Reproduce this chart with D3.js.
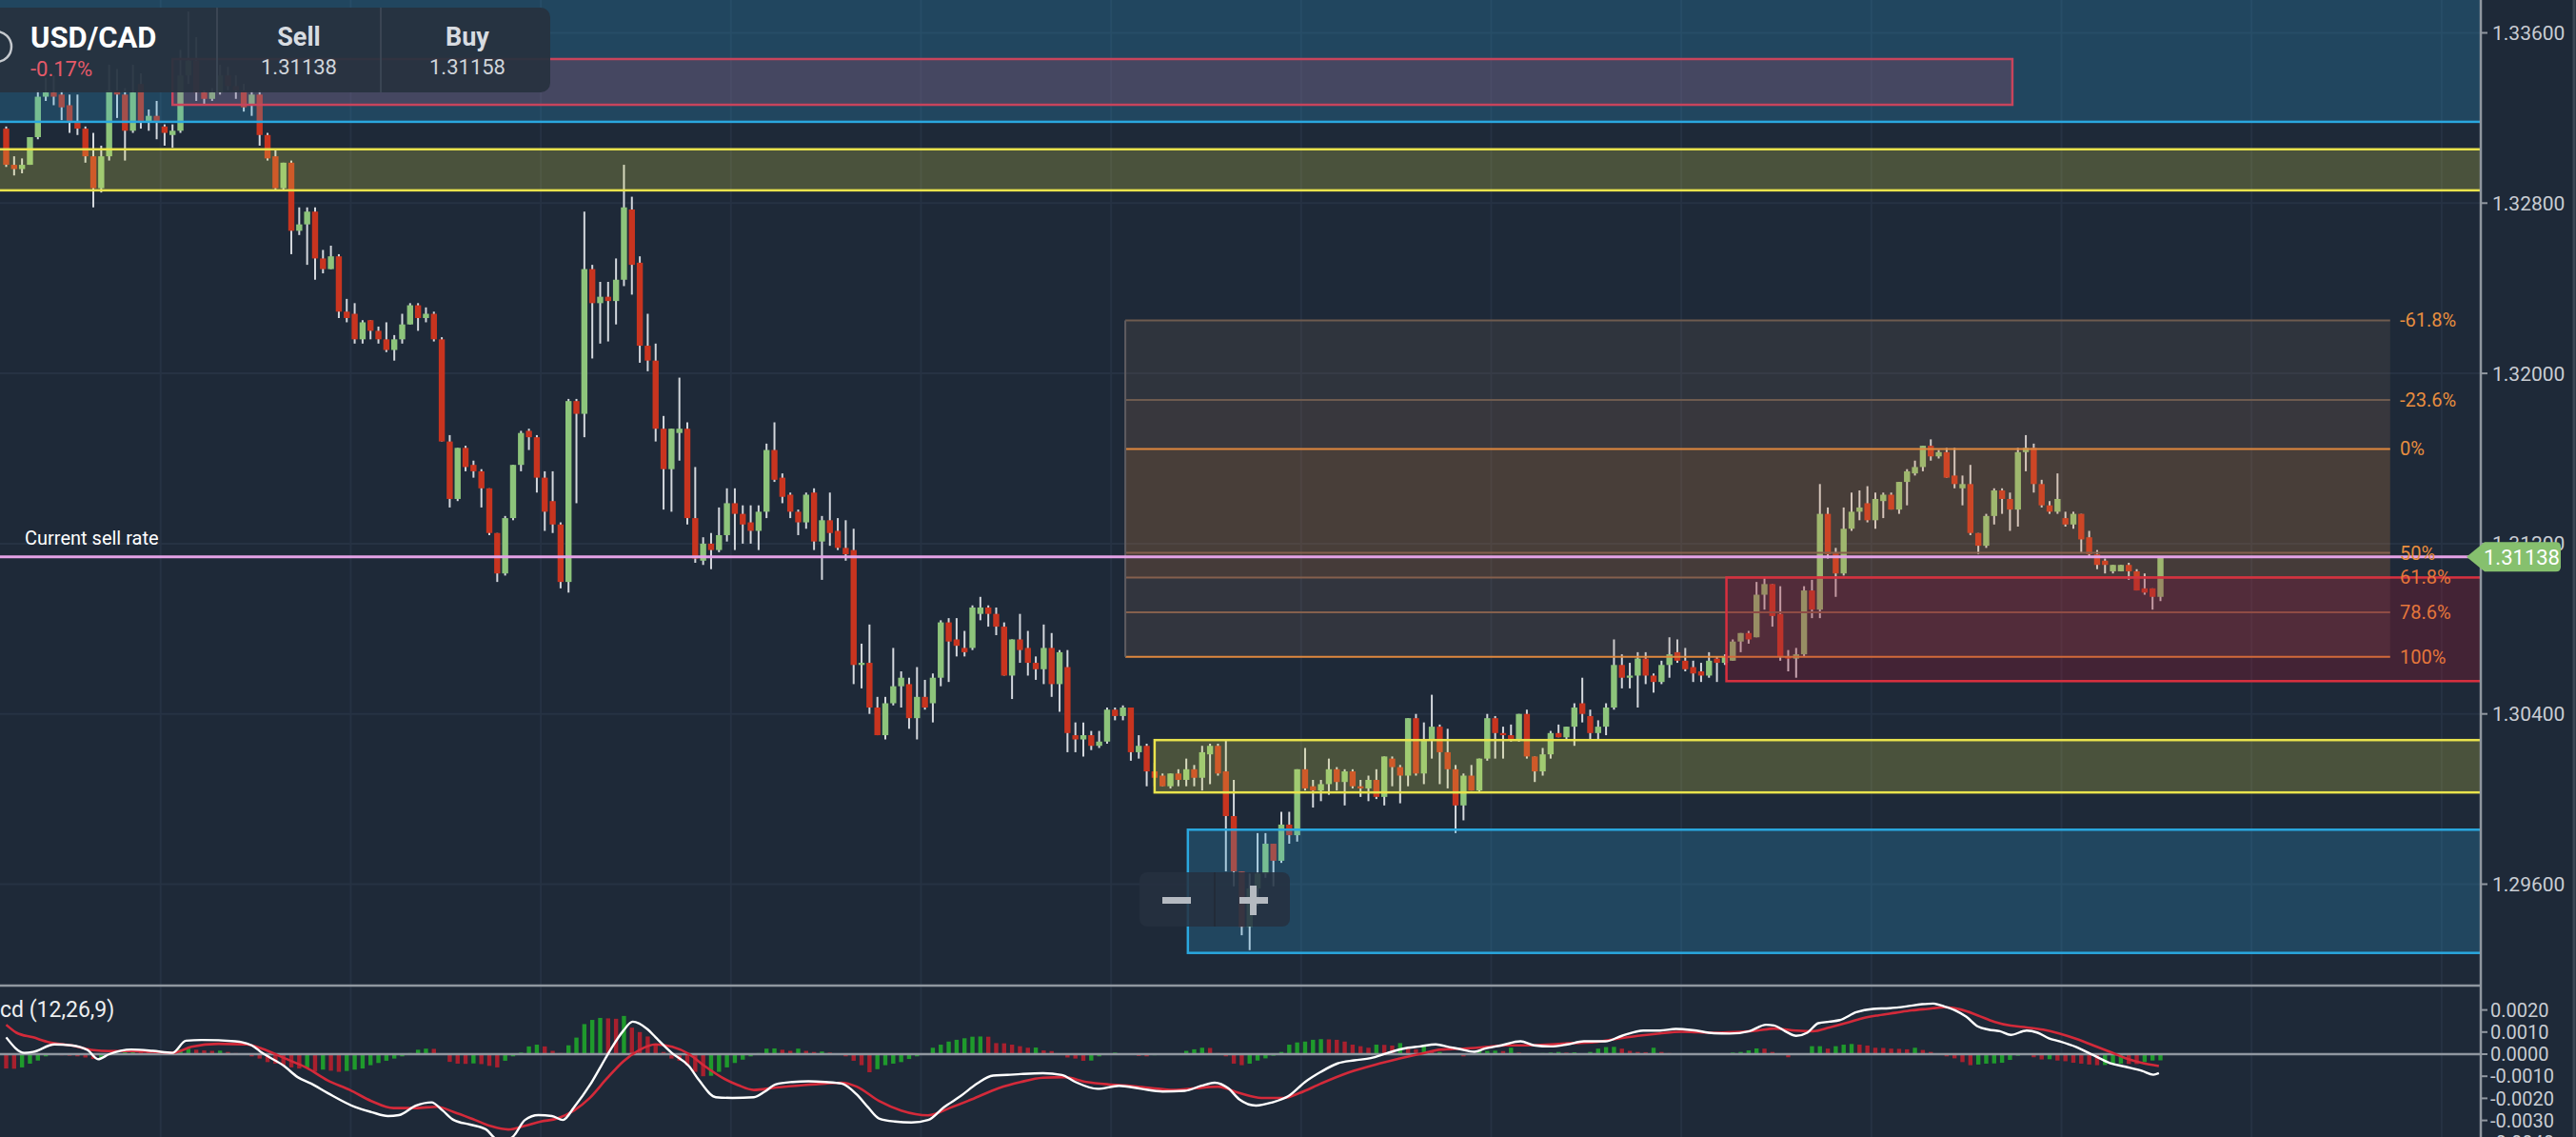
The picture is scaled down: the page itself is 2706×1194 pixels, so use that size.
<!DOCTYPE html>
<html><head><meta charset="utf-8">
<script src="https://cdn.jsdelivr.net/npm/d3@7"></script>
<style>html,body{margin:0;padding:0;background:#1e2938;overflow:hidden}svg{display:block}text{font-family:Roboto,"Noto Sans",sans-serif}</style>
</head><body><svg id="c" width="2706" height="1194"></svg>
<script>
// ---------- DATA (hourly USD/CAD candles) ----------
const open=[1.3315,1.3298,1.3296,1.3298,1.3311,1.3330,1.3332,1.3331,1.3326,1.3318,
1.3315,1.3302,1.3287,1.3302,1.3333,1.3331,1.3314,1.3336,1.3318,1.3321,
1.3316,1.3312,1.3314,1.3340,1.3347,1.3332,1.3329,1.3332,1.3340,1.3335,
1.3333,1.3326,1.3331,1.3312,1.3302,1.3287,1.3299,1.3267,1.3270,1.3276,
1.3254,1.3249,1.3255,1.3229,1.3228,1.3216,1.3225,1.3220,1.3216,1.3211,
1.3216,1.3223,1.3232,1.3226,1.3228,1.3216,1.3168,1.3141,1.3165,1.3157,
1.3154,1.3146,1.3125,1.3106,1.3132,1.3157,1.3173,1.3170,1.3151,1.3140,
1.3129,1.3102,1.3187,1.3181,1.3249,1.3233,1.3236,1.3234,1.3244,1.3277,
1.3252,1.3213,1.3206,1.3174,1.3155,1.3172,1.3174,1.3132,1.3112,1.3120,
1.3117,1.3124,1.3139,1.3134,1.3130,1.3126,1.3135,1.3164,1.3151,1.3143,
1.3135,1.3130,1.3144,1.3121,1.3131,1.3126,1.3118,1.3117,1.3063,1.3064,
1.3043,1.3030,1.3045,1.3053,1.3054,1.3038,1.3048,1.3045,1.3057,1.3083,
1.3075,1.3071,1.3071,1.3087,1.3090,1.3087,1.3081,1.3058,1.3075,1.3071,
1.3064,1.3061,1.3071,1.3054,1.3062,1.3030,1.3028,1.3030,1.3025,1.3027,
1.3042,1.3039,1.3043,1.3022,1.3025,1.3013,1.3011,1.3006,1.3012,1.3009,
1.3014,1.3010,1.3021,1.3025,1.3013,1.2992,1.2966,1.2940,1.2958,1.2965,
1.2979,1.2971,1.2988,1.2983,1.3014,1.3006,1.3004,1.3007,1.3014,1.3008,
1.3013,1.3006,1.3005,1.3009,1.3001,1.3019,1.3015,1.3011,1.3038,1.3012,
1.3028,1.3034,1.3022,1.3014,1.2997,1.3011,1.3004,1.3019,1.3038,1.3031,
1.3030,1.3028,1.3040,1.3020,1.3013,1.3021,1.3031,1.3029,1.3034,1.3045,
1.3039,1.3031,1.3034,1.3043,1.3063,1.3057,1.3058,1.3066,1.3058,1.3055,
1.3063,1.3069,1.3065,1.3062,1.3060,1.3058,1.3066,1.3064,1.3065,1.3074,
1.3078,1.3076,1.3096,1.3101,1.3087,1.3067,1.3066,1.3068,1.3098,1.3089,
1.3134,1.3116,1.3106,1.3127,1.3135,1.3139,1.3131,1.3140,1.3143,1.3136,
1.3149,1.3153,1.3156,1.3166,1.3161,1.3163,1.3152,1.3146,1.3148,1.3125,
1.3119,1.3133,1.3145,1.3141,1.3136,1.3163,1.3165,1.3148,1.3138,1.3135,
1.3132,1.3129,1.3134,1.3123,1.3115,1.3112,1.3107,1.3107,1.3110,1.3107,
1.3099,1.3099,1.3095];
const high=[1.3316,1.3302,1.3301,1.3311,1.3333,1.3339,1.3340,1.3333,1.3331,1.3331,
1.3316,1.3313,1.3307,1.3345,1.3343,1.3334,1.3345,1.3341,1.3324,1.3328,
1.3317,1.3317,1.3352,1.3370,1.3358,1.3333,1.3334,1.3345,1.3344,1.3340,
1.3336,1.3333,1.3333,1.3313,1.3305,1.3299,1.3300,1.3278,1.3278,1.3278,
1.3258,1.3260,1.3256,1.3235,1.3233,1.3225,1.3225,1.3222,1.3224,1.3218,
1.3228,1.3233,1.3233,1.3231,1.3229,1.3217,1.3171,1.3165,1.3166,1.3159,
1.3155,1.3146,1.3125,1.3133,1.3157,1.3173,1.3174,1.3171,1.3154,1.3154,
1.3130,1.3188,1.3188,1.3276,1.3251,1.3243,1.3243,1.3254,1.3298,1.3283,
1.3255,1.3228,1.3214,1.3180,1.3174,1.3198,1.3177,1.3156,1.3123,1.3125,
1.3137,1.3146,1.3146,1.3138,1.3138,1.3138,1.3167,1.3177,1.3153,1.3144,
1.3136,1.3144,1.3146,1.3133,1.3144,1.3132,1.3131,1.3127,1.3073,1.3082,
1.3048,1.3048,1.3071,1.3060,1.3057,1.3062,1.3056,1.3059,1.3084,1.3085,
1.3085,1.3079,1.3091,1.3095,1.3091,1.3090,1.3083,1.3075,1.3087,1.3079,
1.3067,1.3082,1.3078,1.3070,1.3070,1.3036,1.3036,1.3032,1.3032,1.3043,
1.3043,1.3044,1.3043,1.3030,1.3026,1.3017,1.3012,1.3012,1.3014,1.3019,
1.3016,1.3025,1.3026,1.3026,1.3028,1.3009,1.2966,1.2965,1.2984,1.2984,
1.2979,1.2994,1.2994,1.3014,1.3024,1.3009,1.3009,1.3019,1.3015,1.3014,
1.3014,1.3009,1.3011,1.3014,1.3020,1.3020,1.3016,1.3038,1.3040,1.3036,
1.3049,1.3035,1.3033,1.3016,1.3012,1.3016,1.3019,1.3040,1.3039,1.3034,
1.3035,1.3040,1.3042,1.3020,1.3024,1.3032,1.3035,1.3034,1.3045,1.3057,
1.3042,1.3037,1.3045,1.3075,1.3068,1.3064,1.3069,1.3069,1.3059,1.3065,
1.3076,1.3075,1.3071,1.3065,1.3064,1.3069,1.3067,1.3068,1.3075,1.3078,
1.3079,1.3102,1.3104,1.3101,1.3100,1.3070,1.3071,1.3100,1.3103,1.3148,
1.3137,1.3118,1.3137,1.3144,1.3145,1.3147,1.3144,1.3144,1.3144,1.3149,
1.3155,1.3159,1.3166,1.3169,1.3164,1.3165,1.3165,1.3152,1.3157,1.3125,
1.3134,1.3146,1.3146,1.3144,1.3165,1.3171,1.3167,1.3150,1.3140,1.3153,
1.3135,1.3135,1.3134,1.3126,1.3117,1.3113,1.3110,1.3110,1.3111,1.3108,
1.3106,1.3099,1.3114];
const low=[1.3297,1.3293,1.3294,1.3298,1.3310,1.3328,1.3326,1.3319,1.3313,1.3312,
1.3299,1.3278,1.3285,1.3300,1.3320,1.3300,1.3313,1.3315,1.3314,1.3310,
1.3307,1.3306,1.3313,1.3336,1.3328,1.3326,1.3328,1.3331,1.3333,1.3329,
1.3323,1.3321,1.3307,1.3300,1.3286,1.3286,1.3256,1.3265,1.3251,1.3244,
1.3247,1.3249,1.3226,1.3224,1.3214,1.3214,1.3216,1.3214,1.3210,1.3206,
1.3214,1.3223,1.3220,1.3224,1.3215,1.3168,1.3137,1.3140,1.3154,1.3151,
1.3137,1.3124,1.3102,1.3105,1.3131,1.3154,1.3164,1.3144,1.3126,1.3125,
1.3099,1.3097,1.3139,1.3170,1.3207,1.3214,1.3215,1.3223,1.3241,1.3237,
1.3205,1.3201,1.3168,1.3136,1.3135,1.3159,1.3129,1.3111,1.3110,1.3108,
1.3116,1.3121,1.3117,1.3120,1.3120,1.3117,1.3132,1.3149,1.3139,1.3132,
1.3124,1.3127,1.3117,1.3103,1.3119,1.3117,1.3112,1.3054,1.3052,1.3040,
1.3030,1.3028,1.3044,1.3043,1.3033,1.3028,1.3042,1.3036,1.3053,1.3055,
1.3067,1.3067,1.3070,1.3084,1.3081,1.3077,1.3058,1.3047,1.3064,1.3058,
1.3056,1.3054,1.3048,1.3041,1.3022,1.3022,1.3020,1.3023,1.3024,1.3026,
1.3037,1.3037,1.3018,1.3019,1.3006,1.3006,1.3006,1.3005,1.3006,1.3006,
1.3006,1.3004,1.3007,1.3011,1.2966,1.2959,1.2936,1.2929,1.2950,1.2963,
1.2959,1.2970,1.2979,1.2980,1.3004,1.2996,1.2999,1.3002,1.3004,1.2997,
1.3005,1.3001,1.2999,1.3000,1.2997,1.3006,1.2998,1.3006,1.3011,1.3007,
1.3019,1.3007,1.3005,1.2984,1.2990,1.3004,1.3003,1.3018,1.3019,1.3019,
1.3027,1.3027,1.3019,1.3008,1.3011,1.3019,1.3029,1.3028,1.3025,1.3036,
1.3028,1.3028,1.3030,1.3042,1.3052,1.3052,1.3043,1.3054,1.3050,1.3054,
1.3057,1.3064,1.3060,1.3055,1.3055,1.3057,1.3055,1.3063,1.3065,1.3069,
1.3073,1.3076,1.3089,1.3081,1.3065,1.3060,1.3057,1.3067,1.3085,1.3085,
1.3113,1.3095,1.3105,1.3126,1.3131,1.3130,1.3127,1.3132,1.3136,1.3134,
1.3138,1.3152,1.3154,1.3159,1.3160,1.3151,1.3146,1.3138,1.3124,1.3115,
1.3118,1.3129,1.3134,1.3126,1.3128,1.3154,1.3144,1.3137,1.3134,1.3134,
1.3128,1.3127,1.3116,1.3114,1.3108,1.3106,1.3106,1.3107,1.3103,1.3098,
1.3096,1.3089,1.3093];
const close=[1.3298,1.3296,1.3298,1.3311,1.3330,1.3332,1.3330,1.3325,1.3318,1.3315,
1.3302,1.3287,1.3302,1.3333,1.3331,1.3314,1.3332,1.3318,1.3321,1.3318,
1.3313,1.3314,1.3340,1.3347,1.3332,1.3329,1.3332,1.3340,1.3335,1.3333,
1.3325,1.3331,1.3312,1.3301,1.3287,1.3299,1.3267,1.3270,1.3276,1.3254,
1.3249,1.3255,1.3229,1.3226,1.3216,1.3224,1.3220,1.3216,1.3211,1.3216,
1.3223,1.3232,1.3226,1.3228,1.3216,1.3168,1.3141,1.3165,1.3156,1.3154,
1.3146,1.3125,1.3106,1.3132,1.3157,1.3172,1.3170,1.3151,1.3135,1.3129,
1.3102,1.3187,1.3181,1.3249,1.3233,1.3236,1.3234,1.3244,1.3278,1.3251,
1.3213,1.3206,1.3174,1.3155,1.3174,1.3174,1.3132,1.3113,1.3120,1.3117,
1.3124,1.3139,1.3134,1.3129,1.3126,1.3135,1.3164,1.3150,1.3142,1.3135,
1.3130,1.3143,1.3121,1.3131,1.3125,1.3118,1.3115,1.3063,1.3064,1.3043,
1.3030,1.3045,1.3053,1.3057,1.3038,1.3048,1.3043,1.3057,1.3083,1.3074,
1.3072,1.3069,1.3090,1.3090,1.3087,1.3081,1.3058,1.3075,1.3070,1.3064,
1.3061,1.3071,1.3054,1.3069,1.3031,1.3028,1.3030,1.3025,1.3027,1.3042,
1.3039,1.3043,1.3022,1.3025,1.3013,1.3010,1.3006,1.3012,1.3009,1.3014,
1.3010,1.3022,1.3025,1.3012,1.2992,1.2966,1.2940,1.2958,1.2965,1.2979,
1.2971,1.2988,1.2983,1.3014,1.3005,1.3004,1.3007,1.3014,1.3008,1.3013,
1.3006,1.3005,1.3009,1.3001,1.3020,1.3015,1.3011,1.3038,1.3012,1.3028,
1.3034,1.3022,1.3014,1.2997,1.3011,1.3004,1.3019,1.3038,1.3031,1.3030,
1.3028,1.3040,1.3020,1.3013,1.3021,1.3031,1.3029,1.3034,1.3043,1.3040,
1.3031,1.3034,1.3043,1.3063,1.3057,1.3058,1.3066,1.3058,1.3055,1.3063,
1.3068,1.3065,1.3061,1.3059,1.3058,1.3065,1.3064,1.3067,1.3074,1.3078,
1.3075,1.3096,1.3101,1.3086,1.3067,1.3066,1.3068,1.3098,1.3089,1.3134,
1.3115,1.3106,1.3127,1.3135,1.3137,1.3131,1.3141,1.3143,1.3136,1.3149,
1.3154,1.3156,1.3166,1.3161,1.3163,1.3151,1.3148,1.3148,1.3125,1.3119,
1.3133,1.3145,1.3141,1.3136,1.3163,1.3165,1.3148,1.3138,1.3135,1.3141,
1.3129,1.3134,1.3122,1.3115,1.3110,1.3110,1.3110,1.3110,1.3107,1.3098,
1.3097,1.3095,1.31138];

// MACD (12,26,9), values in units of 0.0001, [candle index, value]
const macdLine=[[0,7.6],[2.3,0.6],[3.4,1.0],[6.1,4.4],[8.2,4.0],[10.3,1.8],[11.6,-2.3],[13,0.0],[15.8,2.1],[18.5,1.5],[21,0.6],[22.7,6.1],[24.7,6.4],[28.9,5.8],[31,4.0],[32.3,0.6],[35.1,-5.4],[36.8,-10.4],[38.5,-13.3],[40.6,-17.6],[44.1,-24.0],[46.1,-26.2],[48.2,-28.0],[49.6,-27.6],[51.7,-23.3],[53.7,-21.8],[55.1,-25.5],[56.5,-29.8],[58.6,-31.9],[60.6,-34.1],[62,-38.5],[63.7,-38.0],[65.5,-29.8],[67.2,-27.6],[68.9,-28.0],[70.3,-29.8],[71.7,-24.0],[73.7,-14.0],[75.1,-5.4],[76.5,3.2],[77.9,10.5],[79.1,14.7],[81,11.2],[82,7.6],[84.1,0.4],[86.2,-5.4],[87.5,-11.9],[89.6,-19.5],[91.7,-19.8],[94.4,-19.5],[95.8,-16.9],[97.2,-13.6],[99.3,-12.6],[101.3,-12.3],[103.4,-12.6],[105.5,-13.3],[107.4,-18.3],[108.8,-24.0],[110.2,-29.1],[112.2,-30.5],[114.3,-30.9],[116.4,-29.8],[118.4,-24.0],[120.5,-19.0],[122.6,-13.3],[124.6,-9.7],[126.4,-9.4],[128.1,-9.0],[130.9,-8.6],[133.3,-9.4],[135,-12.6],[137.8,-15.7],[140.5,-14.3],[143.3,-15.7],[146,-16.9],[148.8,-16.6],[150.9,-14.3],[152.6,-12.9],[154.3,-15.4],[155.7,-20.5],[157.8,-23.3],[159.8,-21.9],[161.9,-19.0],[164,-12.6],[166,-8.0],[168.1,-4.2],[170.2,-2.8],[172.3,-1.8],[174.3,0.4],[176.4,2.5],[178.5,3.5],[180.5,4.4],[182.2,3.2],[183.3,2.5],[185.4,1.1],[186.7,2.5],[188.8,4.0],[191.2,5.8],[192.9,4.0],[195,3.5],[197.1,4.4],[199.2,5.8],[201.9,5.8],[204,8.3],[206.7,10.7],[208.8,10.7],[210.8,11.4],[212.9,10.9],[215.6,9.5],[217.6,9.3],[220.1,10.4],[222.2,13.3],[223.2,13.0],[224.6,10.4],[226,8.3],[227.4,9.7],[228.8,14.0],[230.2,14.7],[231.5,15.4],[233.6,19.0],[235.7,20.5],[237.8,20.8],[239.9,21.6],[241.9,22.6],[243.3,22.9],[244.7,21.6],[246.1,19.8],[247.5,16.9],[248.9,12.6],[250.3,11.1],[251.7,10.4],[253.1,8.7],[255.1,10.7],[256.5,9.7],[257.9,7.2],[259.3,5.8],[261.4,3.2],[263.5,-0.4],[265.6,-4.0],[267.6,-5.7],[269.7,-7.6],[271.1,-9.3],[271.8,-8.6]];
const signalLine=[[0,13.3],[1.3,9.7],[3.4,7.6],[5.4,5.4],[8.2,4.0],[11,1.8],[13,1.4],[15.8,1.4],[18.5,1.1],[21,0.6],[23.4,3.3],[26.8,4.7],[30.3,4.4],[32.3,2.5],[35.1,-1.8],[37.9,-6.1],[40.6,-11.9],[43.4,-16.2],[46.1,-21.2],[48.9,-24.4],[51.7,-24.4],[54.4,-23.8],[56.5,-26.2],[59.2,-29.8],[61.3,-32.7],[63.4,-34.1],[65.5,-32.4],[67.5,-30.5],[69.6,-29.1],[71.7,-25.5],[73.7,-19.8],[75.8,-11.2],[77.9,-3.3],[79.9,1.8],[82,4.4],[84.1,3.3],[86.2,0.1],[88.2,-5.4],[90.3,-10.4],[92.4,-14.0],[94.4,-16.2],[97.2,-15.1],[100.7,-14.0],[103.4,-13.3],[105.5,-12.9],[107.4,-14.7],[110.2,-21.2],[113,-25.5],[116.4,-27.7],[119.1,-24.4],[121.9,-20.5],[125.3,-15.4],[128.1,-12.6],[130.9,-10.7],[133.6,-10.4],[136.4,-12.6],[139.2,-13.7],[141.9,-14.3],[144.7,-15.4],[147.4,-16.2],[150.2,-15.4],[153,-14.7],[155.7,-17.6],[158.5,-19.8],[161.3,-19.8],[163.3,-17.6],[166,-13.3],[169.5,-8.3],[172.9,-4.7],[175.7,-2.2],[178.5,0.1],[181.2,2.1],[184,2.5],[186.7,3.2],[189.5,4.0],[192.2,4.0],[195,4.4],[197.8,5.0],[200.5,5.4],[203.3,6.9],[206,8.3],[208.8,9.4],[211.5,10.1],[215.6,9.7],[218.3,10.0],[221.1,10.7],[223.2,11.6],[226,10.7],[228.1,10.4],[230.2,12.1],[232.2,14.0],[234.3,16.2],[236.4,17.6],[238.5,18.7],[240.6,19.8],[242.6,20.5],[244.7,21.2],[246.8,20.2],[248.9,17.6],[251,14.7],[253.1,12.9],[255.1,12.1],[257.2,11.1],[259.3,9.3],[261.4,6.9],[263.5,4.0],[265.6,1.1],[267.6,-1.8],[269.7,-4.0],[271.8,-5.4]];
const histogram=[-6.5,-6.6,-6.0,-4.3,-2.9,-1.0,-0.2,-0.5,-0.7,-1.0,
-1.5,-2.2,-1.5,-0.5,0.5,1.0,1.6,1.5,1.0,0.7,
0.3,0.5,2.2,2.5,2.0,1.7,1.5,1.6,1.0,0.5,
-0.3,-1.0,-2.0,-3.6,-4.3,-5.0,-6.0,-6.5,-6.3,-7.9,
-7.0,-7.5,-8.0,-7.6,-7.0,-6.5,-5.0,-4.0,-3.0,-2.0,
-1.0,0.5,2.0,2.5,2.4,0.2,-3.5,-4.3,-4.4,-4.2,
-4.5,-5.3,-6.0,-3.0,-1.0,0.7,3.5,4.3,3.5,1.5,
0.5,4.0,7.5,13.6,15.5,16.4,16.2,16.0,17.3,12.0,
10.0,8.0,4.5,1.0,-2.0,-3.0,-5.0,-8.0,-10.0,-9.8,
-8.0,-6.0,-4.0,-2.5,-1.0,0.5,2.5,2.6,2.0,1.5,
2.5,1.5,1.0,1.2,0.7,0.3,-1.0,-3.0,-5.0,-8.2,
-6.8,-5.0,-4.3,-3.6,-2.2,-1.0,0.3,2.9,4.3,5.7,
6.5,7.2,7.9,8.0,7.9,5.0,4.9,4.3,3.6,2.9,
3.0,1.7,1.4,0.0,-1.5,-2.0,-3.0,-2.9,-1.0,-0.3,
0.7,0.3,-0.3,-0.8,-1.0,-0.5,-0.4,-0.2,0.1,1.5,
2.2,2.9,2.8,0.5,-1.0,-4.3,-5.0,-4.3,-2.9,-1.9,
-0.7,1.0,4.3,5.3,5.7,6.5,6.8,6.7,6.5,5.7,
4.3,3.6,2.9,4.3,4.2,3.9,5.0,2.5,2.2,3.6,
1.0,1.0,0.3,-0.3,-1.0,-0.3,1.4,1.5,1.6,1.4,
2.9,0.7,0.3,0.0,0.5,0.7,1.0,0.7,0.8,0.3,
1.0,2.5,3.2,3.3,2.5,1.5,1.0,0.9,2.9,1.0,
0.5,0.3,0.2,0.1,0.0,0.1,0.2,0.3,0.7,1.0,
1.7,2.6,2.5,1.0,0.3,-1.4,-0.2,0.1,3.6,3.6,
2.5,3.6,4.3,4.6,4.3,3.9,2.9,2.8,2.5,2.4,
2.2,2.9,1.9,1.0,0.4,-1.0,-1.9,-3.6,-5.0,-4.7,
-4.3,-4.2,-3.9,-2.6,-0.7,-0.4,-1.4,-2.4,-2.3,-2.9,
-3.2,-3.9,-4.3,-4.7,-5.0,-4.9,-4.7,-4.3,-4.4,-4.5,
-3.6,-2.9,-2.8];
const MACD_UNIT=0.0001;

const priceTicks=[1.336,1.328,1.320,1.312,1.304,1.296];
const macdTicks=[0.002,0.001,0,-0.001,-0.002,-0.003,-0.004];
const fibLevels=[-0.618,-0.236,0,0.5,0.618,0.786,1];
const fibLabels=["-61.8%","-23.6%","0%","50%","61.8%","78.6%","100%"];
const fibHigh=1.31645, fibLow=1.30668, fibFrom=141.3, fibTo=301;
// drawn zones: [top price, bottom price, from candle, to candle]
const zoneKind=["blue","pink","yellow","red","yellow","blue"];
const zoneTop=[1.3400,1.33477,1.33053,1.31041,1.30277,1.29856];
const zoneBottom=[1.33182,1.33262,1.32860,1.30554,1.30031,1.29277];
const zoneFrom=[-5,21,-5,217.2,145.0,149.2];
const zoneTo=[330,253.3,330,330,330,330];
const sellRate=1.31138, buyRate=1.31158, changePct="-0.17%";

// ---------- LAYOUT ----------
const W=2706,H=1194,plotR=2606,priceB=1035;
const svg=d3.select("#c");
const x=d3.scaleLinear().domain([0,272]).range([6.5,2269.5]);
const y=d3.scaleLinear().domain([1.336,1.296]).range([34.5,928.5]);
const ym=d3.scaleLinear().domain([0.002,-0.003]).range([1060.6,1176.6]);
const defs=svg.append("defs");
defs.append("clipPath").attr("id","cp").append("rect").attr("x",0).attr("y",0).attr("width",plotR).attr("height",priceB);
defs.append("clipPath").attr("id","cm").append("rect").attr("x",0).attr("y",priceB+1).attr("width",plotR).attr("height",H-priceB);

svg.append("rect").attr("width",W).attr("height",H).attr("fill","#1e2938");

// grid
const grid=svg.append("g").attr("stroke","#263243").attr("stroke-width",2);
grid.selectAll("line.v").data(d3.range(-4.5,313,24)).join("line")
  .attr("x1",d=>x(d)).attr("x2",d=>x(d)).attr("y1",0).attr("y2",H);
grid.selectAll("line.h").data(priceTicks).join("line")
  .attr("x1",0).attr("x2",plotR).attr("y1",d=>y(d)).attr("y2",d=>y(d));

// candles
const candles=close.map((c,i)=>({i,o:open[i],h:high[i],l:low[i],c}));
const cg=svg.append("g").attr("clip-path","url(#cp)");
cg.selectAll("line.w").data(candles).join("line")
  .attr("x1",d=>x(d.i)).attr("x2",d=>x(d.i)).attr("y1",d=>y(d.h)).attr("y2",d=>y(d.l))
  .attr("stroke","#d3d7dd").attr("stroke-width",2);
cg.selectAll("rect.b").data(candles).join("rect")
  .attr("x",d=>x(d.i)-3.2).attr("width",6.4)
  .attr("y",d=>y(Math.max(d.o,d.c)))
  .attr("height",d=>Math.max(2,Math.abs(y(d.o)-y(d.c))))
  .attr("fill",d=>d.c>=d.o?"#8dc47b":"#c8341f");

// zones & fibonacci
const zg=svg.append("g").attr("clip-path","url(#cp)");
const zoneStyle={blue:["rgba(42,167,223,0.23)","#2aa7df"],pink:["rgba(215,75,105,0.2)","#c8445c"],
  yellow:["rgba(233,227,77,0.22)","#e9e34d"],red:["rgba(175,20,45,0.26)","#d8303f"]};
function drawZone(k){
  const s=zoneStyle[zoneKind[k]];
  zg.append("rect").attr("x",x(zoneFrom[k])).attr("y",y(zoneTop[k]))
    .attr("width",x(zoneTo[k])-x(zoneFrom[k])).attr("height",y(zoneBottom[k])-y(zoneTop[k]))
    .attr("fill",s[0]).attr("stroke",s[1]).attr("stroke-width",2.5);
}
[0,1,2].forEach(drawZone);
const fibPrice=l=>fibHigh-l*(fibHigh-fibLow);
const bandFill=["rgba(170,130,100,0.12)","rgba(190,130,90,0.16)","rgba(224,135,63,0.22)","rgba(224,135,63,0.2)","rgba(170,130,100,0.15)","rgba(170,130,100,0.15)"];
d3.pairs(fibLevels).forEach((p,k)=>{
  zg.append("rect").attr("x",x(fibFrom)).attr("width",x(fibTo)-x(fibFrom))
    .attr("y",y(fibPrice(p[0]))).attr("height",y(fibPrice(p[1]))-y(fibPrice(p[0])))
    .attr("fill",bandFill[k]);
});
const fibLineColor=l=>(l===0||l===1)?"#e0883e":(l<0?"#6e5b4f":"#85604d");
zg.selectAll("line.fib").data(fibLevels).join("line")
  .attr("x1",x(fibFrom)).attr("x2",x(fibTo)).attr("y1",d=>y(fibPrice(d))).attr("y2",d=>y(fibPrice(d)))
  .attr("stroke",fibLineColor).attr("stroke-width",2);
zg.append("line").attr("x1",x(fibFrom)).attr("x2",x(fibFrom))
  .attr("y1",y(fibPrice(-0.618))).attr("y2",y(fibPrice(1))).attr("stroke","#5f5c60").attr("stroke-width",2);
[3,4,5].forEach(drawZone);

// current sell rate line
svg.append("line").attr("x1",0).attr("x2",plotR).attr("y1",y(sellRate)).attr("y2",y(sellRate))
  .attr("stroke","#e4a2e6").attr("stroke-width",3);
svg.append("text").attr("x",26).attr("y",y(sellRate)-13).attr("fill","#ffffff").attr("font-size",20).text("Current sell rate");

// fib labels
svg.selectAll("text.fib").data(fibLevels).join("text")
  .attr("x",2521).attr("y",d=>y(fibPrice(d))).attr("dy","0.35em").attr("font-size",20)
  .attr("fill",d=>d>0.55?"#e5763b":"#e88e3f").text((d,k)=>fibLabels[k]);

// MACD panel
const mg=svg.append("g").attr("clip-path","url(#cm)");
mg.selectAll("rect.h").data(histogram).join("rect")
  .attr("x",(d,i)=>x(i)-2.2).attr("width",4.4)
  .attr("y",d=>Math.min(ym(0),ym(d*MACD_UNIT)))
  .attr("height",d=>Math.abs(ym(d*MACD_UNIT)-ym(0)))
  .attr("fill",(d,i)=>(i>0&&d>=histogram[i-1])?"#1f9a2c":"#a8202e");
mg.append("line").attr("x1",0).attr("x2",plotR).attr("y1",ym(0)).attr("y2",ym(0)).attr("stroke","#9097a0").attr("stroke-width",2.5);
const ln=d3.line().x(d=>x(d[0])).y(d=>ym(d[1]*MACD_UNIT)).curve(d3.curveMonotoneX);
mg.append("path").attr("d",ln(signalLine)).attr("fill","none").attr("stroke","#d42a3a").attr("stroke-width",2.6);
mg.append("path").attr("d",ln(macdLine)).attr("fill","none").attr("stroke","#ffffff").attr("stroke-width",2.4);
const ml=svg.append("text").attr("y",1068).attr("font-size",23).attr("fill","#eceef0").text("Macd (12,26,9)");
ml.attr("x",-ml.node().getSubStringLength(0,2));

// separators & axis
svg.append("line").attr("x1",0).attr("x2",plotR).attr("y1",priceB).attr("y2",priceB).attr("stroke","#9097a0").attr("stroke-width",2.5);
svg.append("line").attr("x1",plotR).attr("x2",plotR).attr("y1",0).attr("y2",H).attr("stroke","#9097a0").attr("stroke-width",2.5);
svg.append("line").attr("x1",2704).attr("x2",2704).attr("y1",0).attr("y2",H).attr("stroke","#3c4654").attr("stroke-width",3);
const ax=svg.append("g");
ax.selectAll("line.pt").data(priceTicks).join("line").attr("x1",plotR).attr("x2",plotR+7)
  .attr("y1",d=>y(d)).attr("y2",d=>y(d)).attr("stroke","#9097a0").attr("stroke-width",2);
ax.selectAll("text.pt").data(priceTicks).join("text").attr("x",2618).attr("y",d=>y(d)).attr("dy","0.36em")
  .attr("font-size",21).attr("fill","#c9cdd3").text(d=>d.toFixed(5));
ax.selectAll("line.mt").data(macdTicks).join("line").attr("x1",plotR).attr("x2",plotR+7)
  .attr("y1",d=>ym(d)).attr("y2",d=>ym(d)).attr("stroke","#9097a0").attr("stroke-width",2);
ax.selectAll("text.mt").data(macdTicks).join("text").attr("x",2616).attr("y",d=>ym(d)).attr("dy","0.36em")
  .attr("font-size",20).attr("fill","#c9cdd3").text(d=>d.toFixed(4));

// price tag
const ty=y(sellRate);
svg.append("path").attr("d",`M2591,${ty} L2610,${ty-15.5} L2685,${ty-15.5} Q2690,${ty-15.5} 2690,${ty-10.5} L2690,${ty+10.5} Q2690,${ty+15.5} 2685,${ty+15.5} L2610,${ty+15.5} Z`)
  .attr("fill","#86c06e");
svg.append("text").attr("x",2649).attr("y",ty).attr("dy","0.36em").attr("text-anchor","middle")
  .attr("font-size",22).attr("fill","#ffffff").text(sellRate.toFixed(5));

// header panel
const hg=svg.append("g");
hg.append("rect").attr("x",-12).attr("y",8).attr("width",590).attr("height",89).attr("rx",10)
  .attr("fill","#27313e").attr("opacity",0.93);
hg.selectAll("line.dv").data([228,400]).join("line").attr("x1",d=>d).attr("x2",d=>d).attr("y1",8).attr("y2",97)
  .attr("stroke","#3a4553").attr("stroke-width",2);
hg.append("circle").attr("cx",-4).attr("cy",49).attr("r",16).attr("fill","none").attr("stroke","#c5c9ce").attr("stroke-width",2.5);
hg.append("text").attr("x",32).attr("y",50).attr("font-size",31).attr("font-weight","bold").attr("fill","#ffffff").text("USD/CAD");
hg.append("text").attr("x",32).attr("y",80).attr("font-size",22).attr("fill","#e55a69").text(changePct);
hg.append("text").attr("x",314).attr("y",48).attr("text-anchor","middle").attr("font-size",27).attr("font-weight","bold").attr("fill","#d8dce1").text("Sell");
hg.append("text").attr("x",314).attr("y",78).attr("text-anchor","middle").attr("font-size",22).attr("fill","#d0d5db").text(sellRate.toFixed(5));
hg.append("text").attr("x",491).attr("y",48).attr("text-anchor","middle").attr("font-size",27).attr("font-weight","bold").attr("fill","#d8dce1").text("Buy");
hg.append("text").attr("x",491).attr("y",78).attr("text-anchor","middle").attr("font-size",22).attr("fill","#d0d5db").text(buyRate.toFixed(5));

// zoom control
const zc=svg.append("g");
zc.append("rect").attr("x",1197).attr("y",916).attr("width",158).attr("height",57).attr("rx",8)
  .attr("fill","#263040").attr("opacity",0.85);
zc.append("line").attr("x1",1276).attr("x2",1276).attr("y1",916).attr("y2",973).attr("stroke","#222b38").attr("stroke-width",2);
zc.append("rect").attr("x",1221).attr("y",942).attr("width",30).attr("height",7).attr("fill","#b5bac1");
zc.append("rect").attr("x",1302).attr("y",942).attr("width",30).attr("height",7).attr("fill","#b5bac1");
zc.append("rect").attr("x",1313).attr("y",930).attr("width",7).attr("height",31).attr("fill","#b5bac1");
</script></body></html>
